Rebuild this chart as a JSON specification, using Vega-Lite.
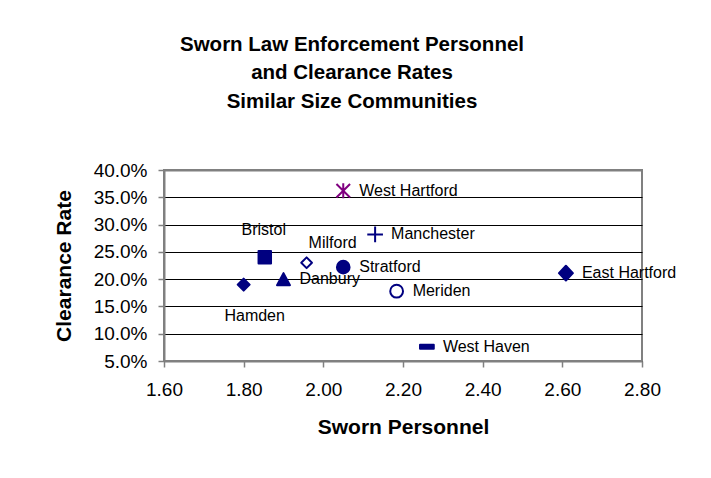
{
  "$schema": "https://vega.github.io/schema/vega-lite/v6.json",
  "width": 478,
  "height": 191,
  "autosize": {"type": "none"},
  "padding": {"left": 164, "top": 170, "right": 69, "bottom": 117},
  "background": "white",
  "title": {
    "text": ["Sworn Law Enforcement Personnel", "and Clearance Rates", "Similar Size Communities"],
    "font": "Liberation Sans",
    "fontSize": 20.5,
    "fontWeight": "bold",
    "color": "black",
    "lineHeight": 28.5,
    "anchor": "middle",
    "dx": -51,
    "offset": 49
  },
  "data": {
    "values": [
      {"city": "West Hartford", "personnel": 2.05, "rate": 0.362},
      {"city": "Manchester", "personnel": 2.13, "rate": 0.282},
      {"city": "Bristol", "personnel": 1.853, "rate": 0.240},
      {"city": "Milford", "personnel": 1.958, "rate": 0.230},
      {"city": "Stratford", "personnel": 2.05, "rate": 0.222},
      {"city": "East Hartford", "personnel": 2.609, "rate": 0.211},
      {"city": "Danbury", "personnel": 1.90, "rate": 0.200},
      {"city": "Hamden", "personnel": 1.80, "rate": 0.190},
      {"city": "Meriden", "personnel": 2.184, "rate": 0.178},
      {"city": "West Haven", "personnel": 2.26, "rate": 0.076}
    ]
  },
  "encoding": {
    "x": {
      "field": "personnel",
      "type": "quantitative",
      "scale": {"domain": [1.6, 2.8], "nice": false, "zero": false},
      "axis": {
        "values": [1.6, 1.8, 2.0, 2.2, 2.4, 2.6, 2.8],
        "format": ".2f",
        "title": "Sworn Personnel",
        "grid": false,
        "labelFlush": false,
        "labelOverlap": false,
        "labelPadding": 13,
        "titlePadding": 17
      }
    },
    "y": {
      "field": "rate",
      "type": "quantitative",
      "scale": {"domain": [0.05, 0.40], "nice": false, "zero": false},
      "axis": {
        "values": [0.05, 0.10, 0.15, 0.20, 0.25, 0.30, 0.35, 0.40],
        "format": ".1%",
        "title": "Clearance Rate",
        "grid": true,
        "labelOverlap": false,
        "gridColor": {"condition": {"test": "datum.value >= 0.399", "value": "#808080"}, "value": "black"},
        "gridWidth": {"condition": {"test": "datum.value >= 0.399", "value": 2}, "value": 1},
        "labelPadding": 11,
        "titlePadding": 19
      }
    }
  },
  "layer": [
    {
      "mark": {"type": "point", "filled": true, "opacity": 1, "size": 256, "strokeWidth": 2, "strokeJoin": "round"},
      "encoding": {
        "shape": {
          "field": "city",
          "legend": null,
          "scale": {
            "domain": ["West Hartford", "Manchester", "Bristol", "Milford", "Stratford", "East Hartford", "Danbury", "Hamden", "Meriden", "West Haven"],
            "range": [
              "M-0.85,-0.85L0.85,0.85M-0.85,0.85L0.85,-0.85M0,-0.94L0,0.94",
              "M-0.98,0H0.98M0,-0.98V0.98",
              "M-0.78,-0.78H0.78V0.78H-0.78Z",
              "M0,-0.67L0.67,0L0,0.67L-0.67,0Z",
              "M-0.79,0A0.79,0.79 0 1,0 0.79,0A0.79,0.79 0 1,0 -0.79,0Z",
              "M0,-0.92L0.875,0L0,0.92L-0.875,0Z",
              "M0,-0.75L0.81,0.75L-0.81,0.75Z",
              "M0,-0.75L0.75,0L0,0.75L-0.75,0Z",
              "M-0.8,0A0.8,0.8 0 1,0 0.8,0A0.8,0.8 0 1,0 -0.8,0Z",
              "M-0.86,-0.25H0.86V0.25H-0.86Z"
            ]
          }
        },
        "fill": {
          "field": "city",
          "legend": null,
          "scale": {
            "domain": ["West Hartford", "Manchester", "Bristol", "Milford", "Stratford", "East Hartford", "Danbury", "Hamden", "Meriden", "West Haven"],
            "range": ["#800080", "#000080", "#000080", "white", "#000080", "#000080", "#000080", "#000080", "white", "#000080"]
          }
        },
        "stroke": {
          "field": "city",
          "legend": null,
          "scale": {
            "domain": ["West Hartford", "Manchester", "Bristol", "Milford", "Stratford", "East Hartford", "Danbury", "Hamden", "Meriden", "West Haven"],
            "range": ["#800080", "#000080", "#000080", "#000080", "#000080", "#000080", "#000080", "#000080", "#000080", "#000080"]
          }
        }
      }
    },
    {
      "transform": [{"filter": {"field": "city", "oneOf": ["West Hartford", "Manchester", "Stratford", "East Hartford", "Danbury", "Meriden", "West Haven"]}}],
      "mark": {"type": "text", "align": "left", "baseline": "middle", "dx": 16, "font": "Liberation Sans", "fontSize": 16, "color": "black"},
      "encoding": {"text": {"field": "city"}}
    },
    {
      "transform": [{"filter": {"field": "city", "equal": "Bristol"}}],
      "mark": {"type": "text", "align": "center", "baseline": "middle", "dx": -1, "dy": -27, "font": "Liberation Sans", "fontSize": 16, "color": "black"},
      "encoding": {"text": {"field": "city"}}
    },
    {
      "transform": [{"filter": {"field": "city", "equal": "Milford"}}],
      "mark": {"type": "text", "align": "center", "baseline": "middle", "dx": 26, "dy": -20, "font": "Liberation Sans", "fontSize": 16, "color": "black"},
      "encoding": {"text": {"field": "city"}}
    },
    {
      "transform": [{"filter": {"field": "city", "equal": "Hamden"}}],
      "mark": {"type": "text", "align": "center", "baseline": "middle", "dx": 11, "dy": 31, "font": "Liberation Sans", "fontSize": 16, "color": "black"},
      "encoding": {"text": {"field": "city"}}
    }
  ],
  "config": {
    "view": {"stroke": "#808080", "strokeWidth": 2},
    "axis": {
      "domainColor": "#808080",
      "domainWidth": 2,
      "tickColor": "#808080",
      "tickWidth": 1.5,
      "tickSize": 6,
      "labelFont": "Liberation Sans",
      "labelFontSize": 19,
      "labelColor": "black",
      "titleFont": "Liberation Sans",
      "titleFontSize": 21,
      "titleFontWeight": "bold",
      "titleColor": "black",
      "gridOpacity": 1
    }
  }
}
